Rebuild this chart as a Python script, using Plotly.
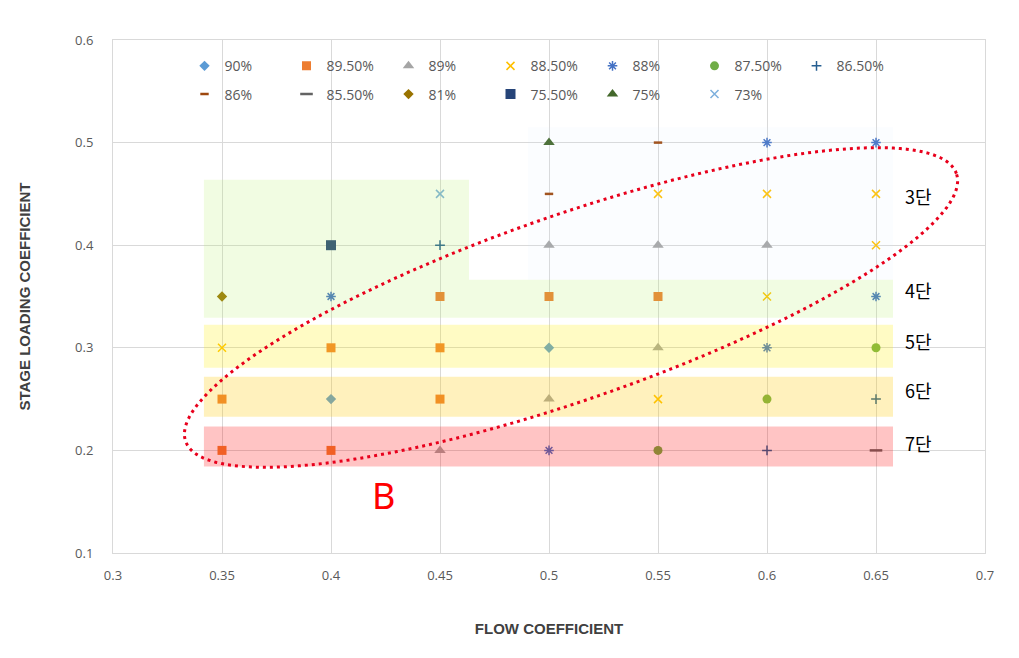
import plotly.graph_objects as go
import numpy as np

# ---------------- data ----------------
series_names = ["90%", "89.50%", "89%", "88.50%", "88%", "87.50%", "86.50%",
                "86%", "85.50%", "81%", "75.50%", "75%", "73%"]

x_90 = [0.40, 0.50]
y_90 = [0.25, 0.30]
x_895 = [0.35, 0.35, 0.40, 0.40, 0.45, 0.45, 0.45, 0.50, 0.55]
y_895 = [0.25, 0.20, 0.30, 0.20, 0.35, 0.30, 0.25, 0.35, 0.35]
x_89 = [0.45, 0.50, 0.50, 0.55, 0.55, 0.60]
y_89 = [0.20, 0.40, 0.25, 0.40, 0.30, 0.40]
x_885 = [0.35, 0.55, 0.55, 0.60, 0.60, 0.65, 0.65]
y_885 = [0.30, 0.45, 0.25, 0.45, 0.35, 0.45, 0.40]
x_88 = [0.40, 0.50, 0.60, 0.60, 0.65, 0.65]
y_88 = [0.35, 0.20, 0.50, 0.30, 0.50, 0.35]
x_875 = [0.55, 0.60, 0.65]
y_875 = [0.20, 0.25, 0.30]
x_865 = [0.45, 0.60, 0.65]
y_865 = [0.40, 0.20, 0.25]
x_86 = [0.50, 0.55]
y_86 = [0.45, 0.50]
x_855 = [0.65]
y_855 = [0.20]
x_81 = [0.35]
y_81 = [0.35]
x_755 = [0.40]
y_755 = [0.40]
x_75 = [0.50]
y_75 = [0.50]
x_73 = [0.45]
y_73 = [0.45]

series_x = [x_90, x_895, x_89, x_885, x_88, x_875, x_865, x_86, x_855, x_81, x_755, x_75, x_73]
series_y = [y_90, y_895, y_89, y_885, y_88, y_875, y_865, y_86, y_855, y_81, y_755, y_75, y_73]

stage_labels = ["3단", "4단", "5단", "6단", "7단"]
stage_label_y = [0.448, 0.3566, 0.307, 0.259, 0.2076]

x_ticks = [0.3, 0.35, 0.4, 0.45, 0.5, 0.55, 0.6, 0.65, 0.7]
x_ticklabels = ["0.3", "0.35", "0.4", "0.45", "0.5", "0.55", "0.6", "0.65", "0.7"]
y_ticks = [0.1, 0.2, 0.3, 0.4, 0.5, 0.6]
y_ticklabels = ["0.1", "0.2", "0.3", "0.4", "0.5", "0.6"]

# ---------------- styles ----------------
symbols = ["diamond", "square", "triangle-up", "x-thin", "asterisk", "circle", "cross-thin",
           "line-ew", "line-ew", "diamond", "square", "triangle-up", "x-thin"]
colors = ["#5B9BD5", "#ED7D31", "#A5A5A5", "#FFC000", "#4472C4", "#70AD47", "#255E91",
          "#9E480E", "#636363", "#997300", "#264478", "#43682B", "#7CAFDD"]
sizes = [8, 9, 10, 8, 8, 9, 7, 6, 9, 8, 10, 10, 8]
line_symbols = {"x-thin", "asterisk", "cross-thin", "line-ew"}

W, H = 1019, 658
ML, MR, MT, MB = 113, 34, 40, 105
XR = [0.3, 0.7]
YR = [0.1, 0.6]

fig = go.Figure()
for i, name in enumerate(series_names):
    sym = symbols[i]
    if sym in line_symbols:
        lw = 2.5 if sym == "line-ew" else 1.5
        marker = dict(symbol=sym, size=sizes[i], color=colors[i],
                      line=dict(color=colors[i], width=lw))
    else:
        marker = dict(symbol=sym, size=sizes[i], color=colors[i], line=dict(width=0))
    fig.add_trace(go.Scatter(
        x=series_x[i], y=series_y[i], mode="markers", name=name, marker=marker,
        legend="legend" if i < 7 else "legend2"))

# ---------------- shaded zones ----------------
xl, xr = 0.3417, 0.6578
shapes = []
shapes.append(dict(type="rect", xref="x", yref="y", x0=0.4904, x1=xr, y0=0.3663, y1=0.515,
                   fillcolor="rgba(200,228,255,0.08)", line=dict(width=0), layer="above"))
shapes.append(dict(type="path", xref="x", yref="y",
                   path=f"M {xl},0.4637 L 0.4633,0.4637 L 0.4633,0.3663 L {xr},0.3663 L {xr},0.3293 L {xl},0.3293 Z",
                   fillcolor="rgba(175,240,95,0.18)", line=dict(width=0), layer="above"))
shapes.append(dict(type="rect", xref="x", yref="y", x0=xl, x1=xr, y0=0.2806, y1=0.3225,
                   fillcolor="rgba(255,238,0,0.23)", line=dict(width=0), layer="above"))
shapes.append(dict(type="rect", xref="x", yref="y", x0=xl, x1=xr, y0=0.2329, y1=0.2719,
                   fillcolor="rgba(255,200,0,0.26)", line=dict(width=0), layer="above"))
shapes.append(dict(type="rect", xref="x", yref="y", x0=xl, x1=xr, y0=0.1842, y1=0.2232,
                   fillcolor="rgba(255,0,0,0.23)", line=dict(width=0), layer="above"))

# ---------------- dotted ellipse (annotation) ----------------
pxu = (W - ML - MR) / (XR[1] - XR[0])
pyu = (H - MT - MB) / (YR[1] - YR[0])
ecx, ecy = 0.5101, 0.3393
ea, eb, eth = 408.0, 92.4, np.deg2rad(19.15)
t = np.linspace(0, 2 * np.pi, 200)
ex = ecx + (ea * np.cos(t) * np.cos(eth) - eb * np.sin(t) * np.sin(eth)) / pxu
ey = ecy + (ea * np.cos(t) * np.sin(eth) + eb * np.sin(t) * np.cos(eth)) / pyu
epath = "M " + " L ".join(f"{a:.5f},{b:.5f}" for a, b in zip(ex, ey)) + " Z"
shapes.append(dict(type="path", xref="x", yref="y", path=epath,
                   line=dict(color="#E8001C", width=3, dash="3px,4px"), layer="above"))

annotations = []
for lab, yv in zip(stage_labels, stage_label_y):
    annotations.append(dict(x=0.6624, y=yv, xref="x", yref="y", text=lab, showarrow=False,
                            xanchor="left", yanchor="middle",
                            font=dict(family="Noto Sans CJK KR", size=18, color="#000000")))
annotations.append(dict(x=0.4239, y=0.1565, xref="x", yref="y", text="B", showarrow=False,
                        xanchor="center", yanchor="middle",
                        font=dict(family="Noto Sans", size=36, color="#FF0000")))

tickfont = dict(family="Open Sans", size=13, color="#595959")
legfont = dict(family="Open Sans", size=14, color="#595959")

fig.update_layout(
    width=W, height=H,
    margin=dict(l=ML, r=MR, t=MT, b=MB),
    paper_bgcolor="white", plot_bgcolor="white",
    shapes=shapes, annotations=annotations,
    xaxis=dict(range=XR, tickvals=x_ticks, ticktext=x_ticklabels, showgrid=True,
               gridcolor="#D9D9D9", gridwidth=1, zeroline=False, showline=True, mirror=True,
               linecolor="#D9D9D9", linewidth=1, tickfont=tickfont, ticks="",
               ticklabelstandoff=10,
               title=dict(text="<b>FLOW COEFFICIENT</b>", standoff=40,
                          font=dict(family="Liberation Sans", size=15, color="#404040"))),
    yaxis=dict(range=YR, tickvals=y_ticks, ticktext=y_ticklabels, showgrid=True,
               gridcolor="#D9D9D9", gridwidth=1, zeroline=False, showline=True, mirror=True,
               linecolor="#D9D9D9", linewidth=1, tickfont=tickfont, ticks="",
               ticklabelstandoff=16,
               title=dict(text="<b>STAGE LOADING COEFFICIENT</b>", standoff=40,
                          font=dict(family="Liberation Sans Narrow, Liberation Sans", size=15, color="#404040"))),
    legend=dict(orientation="h", x=0.082, xanchor="left", y=0.98, yanchor="top",
                entrywidth=57, entrywidthmode="pixels", bgcolor="rgba(0,0,0,0)",
                font=legfont, itemwidth=30),
    legend2=dict(orientation="h", x=0.082, xanchor="left", y=0.925, yanchor="top",
                 entrywidth=57, entrywidthmode="pixels", bgcolor="rgba(0,0,0,0)",
                 font=legfont, itemwidth=30),
    hovermode=False,
)

fig.write_html("out.html")
